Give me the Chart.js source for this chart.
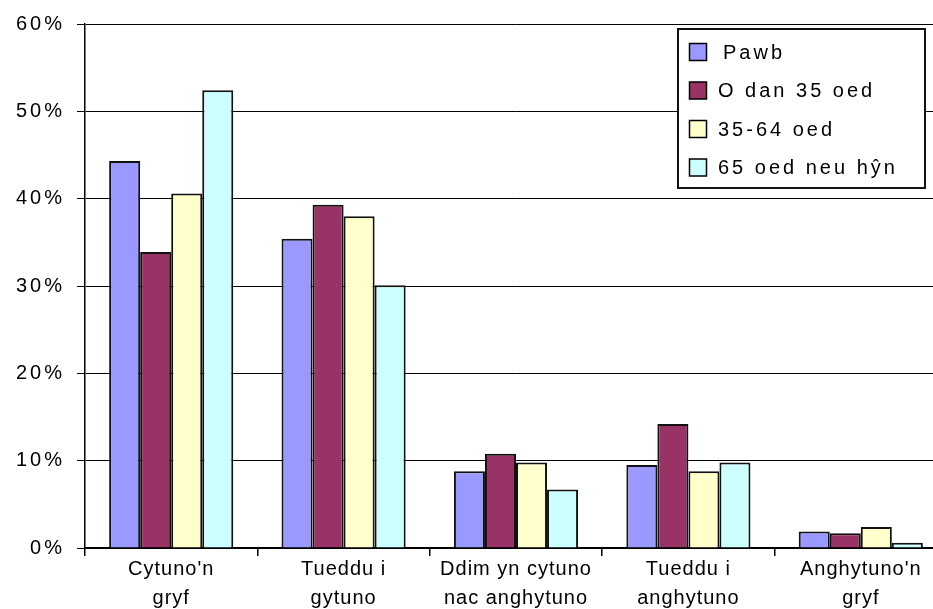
<!DOCTYPE html>
<html>
<head>
<meta charset="utf-8">
<script src="https://cdn.jsdelivr.net/npm/chart.js@4.4.0/dist/chart.umd.min.js"></script>
<style>
html,body{margin:0;padding:0;overflow:hidden;background:#fff;}
#wrap{width:950px;height:609px;position:relative;}
</style>
</head>
<body>
<div id="wrap"><canvas id="c"></canvas></div>
<script>
const categories = [["Cytuno'n","gryf"],["Tueddu i","gytuno"],["Ddim yn cytuno","nac anghytuno"],["Tueddu i","anghytuno"],["Anghytuno'n","gryf"]];
const seriesNames = ["Pawb","O dan 35 oed","35-64 oed","65 oed neu hŷn"];
const pawb = [44.3, 35.4, 8.8, 9.5, 1.9];
const odan35 = [33.9, 39.3, 10.8, 14.2, 1.7];
const oed3564 = [40.6, 38.0, 9.8, 8.8, 2.4];
const oed65 = [52.4, 30.1, 6.7, 9.8, 0.6];
const yTicks = [0,10,20,30,40,50,60];
const colors = ["#9999FF","#993366","#FFFFCC","#CCFFFF"];

const FONT = "'Liberation Sans', Arial, sans-serif";

const spacingPlugin = {
  id:'spacing',
  afterLayout(chart){
    ['x','y'].forEach(id=>{
      const s = chart.scales[id];
      if(s && !s._lsWrapped){
        const orig = s.drawLabels;
        s.drawLabels = function(a){
          const c = this.ctx; const prev = c.letterSpacing;
          c.letterSpacing = id==='y' ? '3px' : '1px';
          orig.call(this,a);
          c.letterSpacing = prev;
        };
        s._lsWrapped = true;
      }
    });
  }
};

const legendPlugin = {
  id:'boxLegend',
  afterDraw(chart){
    const ctx = chart.ctx;
    ctx.save();
    const bx=678, by=29, bw=247, bh=159;
    ctx.fillStyle='#fff';
    ctx.fillRect(bx,by,bw,bh);
    ctx.strokeStyle='#111';
    ctx.lineWidth=2;
    ctx.strokeRect(bx,by,bw,bh);
    ctx.font = "20px " + FONT;
    ctx.textBaseline='middle';
    ctx.letterSpacing='3px';
    chart.data.datasets.forEach((ds,i)=>{
      const cy = 52 + i*38.5;
      ctx.fillStyle = ds.backgroundColor;
      ctx.fillRect(689, cy-8.5, 17, 17);
      ctx.lineWidth=1.5;
      ctx.strokeStyle='#000';
      ctx.strokeRect(689.5, cy-8.5, 17, 17);
      ctx.fillStyle='#000';
      ctx.fillText(ds.label, i===0 ? 723 : 718, cy+1);
    });
    ctx.restore();
  }
};

new Chart(document.getElementById('c'), {
  type:'bar',
  data:{
    labels: categories,
    datasets:[
      {label:seriesNames[0], data:pawb, backgroundColor:colors[0]},
      {label:seriesNames[1], data:odan35, backgroundColor:colors[1]},
      {label:seriesNames[2], data:oed3564, backgroundColor:colors[2]},
      {label:seriesNames[3], data:oed65, backgroundColor:colors[3]}
    ].map(d=>Object.assign(d,{borderColor:'#111', borderWidth:2, categoryPercentage:0.72, barPercentage:1}))
  },
  options:{
    responsive:true,
    maintainAspectRatio:false,
    animation:false,
    layout:{padding:{top:23, right:3, left:0, bottom:0}},
    plugins:{legend:{display:false}, tooltip:{enabled:false}},
    scales:{
      x:{
        grid:{offset:true, drawOnChartArea:false, drawTicks:true, tickLength:8, color:'#000', tickColor:'#000', lineWidth:1.5},
        border:{display:true, color:'#000', width:1.5},
        ticks:{color:'#000', font:{family:FONT, size:20, lineHeight:1.45}, padding:-1, maxRotation:0, autoSkip:false},
        afterFit(s){ s.height = 61; }
      },
      y:{
        min:0, max:60,
        afterBuildTicks(s){ s.ticks = yTicks.map(v=>({value:v})); },
        grid:{color:'#000', tickColor:'#000', tickLength:8, lineWidth:1},
        border:{display:true, color:'#000', width:1.5},
        ticks:{color:'#000', font:{family:FONT, size:20}, padding:12, callback:v=>v+'%'},
        afterFit(s){ s.width = 85; }
      }
    }
  },
  plugins:[spacingPlugin, legendPlugin]
});
</script>
</body>
</html>
